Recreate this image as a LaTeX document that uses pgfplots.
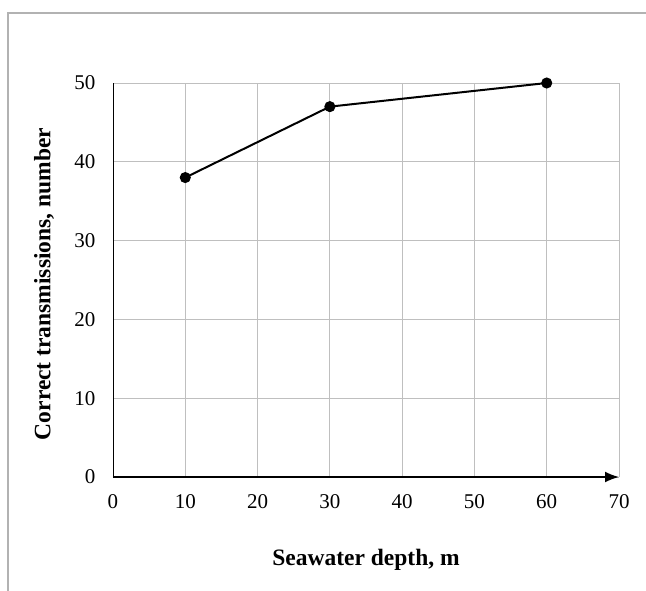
\documentclass[border=0pt]{standalone}
\usepackage{pgfplots}
\pgfplotsset{compat=1.18}
\usepackage{fontspec}
\setmainfont{Liberation Serif}
\usetikzlibrary{arrows.meta}
\begin{document}
\begin{tikzpicture}[x=1pt,y=1pt]
\useasboundingbox (0,0) rectangle (646,590);
\draw[gray!60, line width=1.2pt] (8,-10) -- (8,577) -- (700,577);
\begin{axis}[
  at={(113pt,113pt)}, anchor=south west,
  scale only axis, width=506pt, height=394pt,
  xmin=0, xmax=70, ymin=0, ymax=50,
  xtick={0,10,...,70}, ytick={0,10,...,50},
  major tick length=0pt,
  grid=major,
  grid style={gray!50, line width=0.9pt},
  axis x line=bottom, axis y line=left,
  x axis line style={-{Latex[length=14pt,width=11pt]}, line width=1.6pt, black},
  y axis line style={-, line width=0.9pt, black},
  /pgf/number format/assume math mode=true,
  ticklabel style={font=\fontsize{21}{24}\selectfont},
  xticklabel style={yshift=-14pt},
  yticklabel style={xshift=-14pt},
  xlabel={Seawater depth, m},
  ylabel={Correct transmissions, number},
  label style={font=\bfseries\fontsize{23.5}{26}\selectfont},
  xlabel style={at={(axis description cs:0.5,0)}, anchor=center, yshift=-83pt},
  ylabel style={at={(axis description cs:-0.1364,0.49)}, anchor=center},
  clip=false,
]
\addplot[black, line width=2pt, mark=*, mark size=4.5pt, mark options={solid, fill=black}]
  coordinates {(10,38) (30,47) (60,50)};
\end{axis}
\end{tikzpicture}
\end{document}
